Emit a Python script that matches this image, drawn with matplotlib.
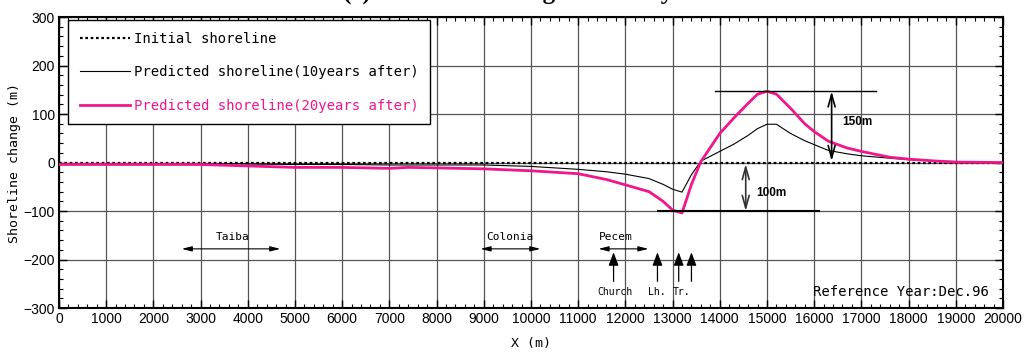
import numpy as np
import matplotlib
matplotlib.use("Agg")
import matplotlib.pyplot as plt
from matplotlib.ticker import MultipleLocator

# shoreline data (X in m, change in m)
x_pts = [0, 1000, 2000, 3000, 4000, 5000, 6000, 7000, 7400, 8000, 9000, 10000,
         11000, 11600, 12000, 12500, 12800, 13000, 13200, 13400, 13600, 14000,
         14300, 14600, 14800, 15000, 15200, 15500, 15800, 16000, 16300, 16700,
         17000, 17600, 18000, 18600, 19000, 20000]
y_10yr = [-3, -3, -3, -3, -3, -4, -4, -5, -5, -5, -5, -8,
          -14, -19, -24, -33, -45, -55, -61, -25, 3, 23,
          38, 56, 70, 79, 79, 60, 45, 37, 25, 18,
          14, 9, 6, 3, 2, 0]
y_20yr = [-4, -4, -4, -4, -7, -10, -10, -12, -10, -11, -13, -17,
          -23, -35, -46, -60, -80, -98, -104, -45, 2, 60,
          92, 122, 141, 147, 141, 112, 80, 64, 44, 30,
          23, 11, 7, 3, 1, 0]
x_init = [0, 20000]
y_init = [0, 0]

labels = ["Initial shoreline",
          "Predicted shoreline(10years after)",
          "Predicted shoreline(20years after)"]

# place names (text x, arrow from, arrow to)
places = ["Taiba", "Colonia", "Pecem"]
place_x = [3670, 9560, 11790]
place_from = [2600, 8930, 11430]
place_to = [4690, 10200, 12490]

# landmark up arrows
marks = ["Church", "Lh.", "Tr."]
mark_x = [11770, 12660, 13190]
arrow_x = [11750, 12680, 13130, 13400]

MAGENTA = "#f0168c"
MONO = ["DejaVu Sans Mono"]

plt.rcParams["font.family"] = ["Liberation Sans", "DejaVu Sans"]

fig = plt.figure(figsize=(10.29, 3.56), dpi=100)
ax = fig.add_axes([0.0573, 0.1348, 0.9174, 0.8172])

ax.plot(x_init, y_init, color="k", ls=(0, (1.2, 1.2)), lw=1.6, label=labels[0], zorder=3)
ax.plot(x_pts, y_10yr, color="k", lw=0.8, label=labels[1], zorder=4)
ax.plot(x_pts, y_20yr, color=MAGENTA, lw=2.0, label=labels[2], zorder=5)

ax.set_xlim(0, 20000)
ax.set_ylim(-300, 300)
ax.xaxis.set_major_locator(MultipleLocator(1000))
ax.xaxis.set_minor_locator(MultipleLocator(200))
ax.yaxis.set_major_locator(MultipleLocator(100))
ax.yaxis.set_minor_locator(MultipleLocator(20))
ax.tick_params(which="both", direction="in", top=True, right=True, labelsize=10, pad=3)
ax.tick_params(which="major", length=6, width=1)
ax.tick_params(which="minor", length=3, width=0.8)
ax.grid(True, which="major", color="#555555", lw=0.9)
for s in ax.spines.values():
    s.set_linewidth(1.5)

ax.set_xlabel("X (m)", family=MONO, fontsize=9.5, labelpad=8)
ax.set_ylabel("Shoreline change (m)", family=MONO, fontsize=9.5, labelpad=2)

leg = ax.legend(loc="upper left", bbox_to_anchor=(0.0095, 0.99), borderaxespad=0,
                prop={"family": MONO, "size": 10}, handlelength=3.6, handletextpad=0.3,
                labelspacing=1.4, borderpad=0.85, fancybox=False, framealpha=1,
                edgecolor="k")
leg.get_frame().set_linewidth(1.0)
leg.get_texts()[2].set_color(MAGENTA)

# 150 m and 100 m markers
ax.plot([13900, 17300], [147, 147], color="k", lw=1.0, zorder=6)
ax.annotate("", xy=(16370, 147), xytext=(16370, 3),
            arrowprops=dict(arrowstyle="<->,head_length=0.9,head_width=0.25",
                            lw=1.2, color="k", shrinkA=0, shrinkB=0), zorder=6)
ax.text(16600, 84, "150m", fontsize=8.5, fontweight="bold", va="center", ha="left")

ax.plot([12700, 16100], [-100, -100], color="k", lw=1.5, zorder=6)
ax.annotate("", xy=(14550, -3), xytext=(14550, -100),
            arrowprops=dict(arrowstyle="<->,head_length=0.9,head_width=0.25",
                            lw=1.2, color="#333333", shrinkA=0, shrinkB=0), zorder=6)
ax.text(14780, -62, "100m", fontsize=8.5, fontweight="bold", va="center", ha="left")

for name, xt, x0, x1 in zip(places, place_x, place_from, place_to):
    ax.text(xt, -153, name, family=MONO, fontsize=8, ha="center", va="center")
    ax.annotate("", xy=(x0, -178), xytext=(x1, -178),
                arrowprops=dict(arrowstyle="<|-|>,head_length=0.6,head_width=0.15",
                                lw=0.8, color="k", shrinkA=0, shrinkB=0))

for xa in arrow_x:
    ax.annotate("", xy=(xa, -185), xytext=(xa, -245),
                arrowprops=dict(arrowstyle="-|>,head_length=0.8,head_width=0.3",
                                lw=0.9, color="k", shrinkA=0, shrinkB=0))
for name, xm in zip(marks, mark_x):
    ax.text(xm, -268, name, family=MONO, fontsize=7, ha="center", va="center")

ax.text(19700, -268, "Reference Year:Dec.96", family=MONO, fontsize=10,
        ha="right", va="center")

# title sits above the canvas, only its descenders show, as in the source image
fig.text(0.515, 1.004, "(c) Shoreline Change after 20 years", family=["Liberation Serif"],
         fontsize=18, fontweight="bold", ha="center", va="baseline")

fig.savefig("out.png", dpi=100)
